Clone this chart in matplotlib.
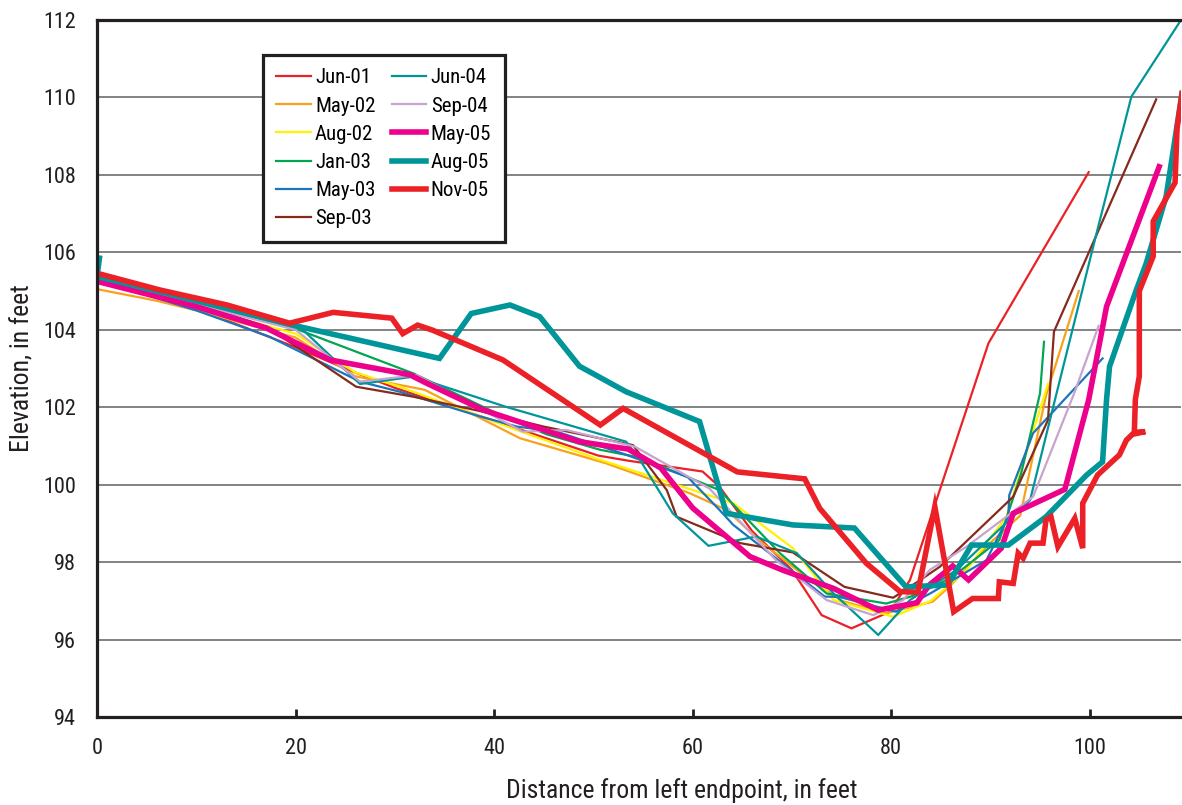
import matplotlib
matplotlib.use("Agg")
import matplotlib.pyplot as plt

plt.rcParams['font.family'] = ['Roboto Condensed', 'Archivo Narrow', 'DejaVu Sans']

# perfis medidos (distancia em pes, elevacao em pes)
jun01_x = [0, 6.5, 13, 20, 25, 30, 40, 50.5, 53.5, 61, 62.7, 66, 70, 73, 76, 79.9, 81.9, 89.8, 99.9]
jun01_y = [105.3, 104.85, 104.25, 103.55, 103.0, 102.5, 101.65, 100.75, 100.62, 100.34, 99.95, 98.8, 97.8, 96.63, 96.29, 96.72, 97.54, 103.65, 108.07]

may02_x = [0, 6, 10, 20, 26, 33, 42.6, 51.3, 59.7, 63.4, 67, 71, 75, 79.5, 84.2, 86, 90, 93, 95.6, 98.9]
may02_y = [105.05, 104.75, 104.5, 103.8, 102.8, 102.45, 101.2, 100.55, 99.78, 99.35, 98.5, 97.7, 97.0, 96.68, 96.98, 97.4, 98.5, 99.2, 102.3, 105.0]

aug02_x = [0, 10, 20, 26, 30.5, 42.3, 50.7, 64.1, 70.1, 74.2, 80.2, 84, 87.6, 91.6, 95.8]
aug02_y = [105.3, 104.6, 103.9, 102.9, 102.53, 101.41, 100.64, 99.52, 98.36, 97.02, 96.59, 97.0, 97.8, 99.17, 102.6]

jan03_x = [0, 10, 20.4, 31.9, 40.6, 45.3, 50.7, 54.7, 62.7, 65.1, 68.8, 73.5, 79.5, 82.5, 86.2, 90.9, 93.1, 95.0, 95.4]
jan03_y = [105.35, 104.7, 103.99, 102.87, 101.8, 101.3, 100.9, 100.7, 99.86, 99.22, 98.23, 97.19, 96.93, 97.15, 97.62, 98.57, 100.29, 102.36, 103.69]

may03_x = [0, 10, 17.4, 26.5, 30.5, 38.6, 42.3, 46.3, 53, 59.5, 62.7, 64.1, 67.1, 73.3, 74.8, 80.5, 84, 89.6, 91.8, 91.9, 94.3, 101.3]
may03_y = [105.3, 104.5, 103.82, 102.66, 102.4, 101.76, 101.5, 101.37, 100.8, 100.2, 99.35, 98.96, 98.36, 97.11, 97.1, 96.72, 97.2, 98.05, 99.17, 99.73, 101.33, 103.26]

sep03_x = [0, 10, 17.1, 26.1, 31.9, 38.6, 45, 54, 57.4, 58.4, 64.8, 70.1, 75.3, 80.2, 81.9, 84.9, 92.3, 95.8, 96.4, 106.7]
sep03_y = [105.3, 104.65, 104.08, 102.53, 102.27, 101.9, 101.5, 101.02, 99.86, 99.17, 98.49, 98.25, 97.36, 97.08, 97.36, 97.88, 99.69, 101.67, 103.95, 109.95]

jun04_x = [0, 10, 20.4, 26.5, 31.9, 41.2, 53.3, 54.7, 58.0, 61.6, 66.4, 70.5, 74.2, 78.7, 81.9, 86.6, 94.0, 96.5, 100.7, 104.2, 109.2]
jun04_y = [105.35, 104.75, 104.08, 102.6, 102.79, 102.01, 101.11, 100.64, 99.26, 98.42, 98.66, 98.23, 97.19, 96.12, 97.02, 97.8, 99.6, 102.19, 106.5, 110.02, 112.0]

sep04_x = [0, 10, 20, 26.5, 32.2, 42.9, 47.3, 54.2, 61.7, 68.4, 73.5, 78.2, 81.2, 83.9, 87.6, 94.3, 98.5, 100.9]
sep04_y = [105.3, 104.65, 104.0, 102.66, 102.83, 101.37, 101.41, 100.98, 99.9, 98.05, 97.02, 96.63, 97.02, 97.8, 98.4, 99.69, 102.4, 104.1]

may05_x = [0, 10, 17.1, 23.5, 31.5, 33.2, 38.9, 48.6, 53.5, 56.8, 60.0, 65.8, 69.1, 74.2, 78.7, 82.6, 83.8, 86.2, 87.8, 91.1, 92.3, 97.5, 99.9, 101.7, 107.0]
may05_y = [105.25, 104.6, 104.04, 103.22, 102.84, 102.62, 101.93, 101.11, 100.92, 100.43, 99.4, 98.14, 97.79, 97.32, 96.76, 96.95, 97.4, 97.9, 97.54, 98.36, 99.26, 99.88, 102.19, 104.6, 108.21]

aug05_x = [0.25, 0, 10, 20.4, 34.5, 37.7, 41.6, 44.6, 48.6, 53.3, 60.7, 63.4, 70.1, 76.3, 81.5, 85.7, 88.1, 91.8, 95.6, 99.7, 101.3, 101.7, 102.0, 104.7, 105.7, 107.7, 109.3]
aug05_y = [105.85, 105.38, 104.75, 104.08, 103.26, 104.42, 104.64, 104.34, 103.06, 102.4, 101.63, 99.26, 98.96, 98.88, 97.36, 97.41, 98.44, 98.44, 99.17, 100.25, 100.59, 102.2, 103.05, 105.03, 105.72, 107.44, 110.1]

nov05_x = [0, 6.3, 13.1, 19.4, 23.8, 29.7, 30.8, 32.3, 33.8, 40.9, 50.7, 53.0, 64.5, 71.3, 72.8, 77.5,
           80.9, 82.7, 84.4, 86.3, 88.2, 90.8, 90.9, 92.3, 92.8, 93.3, 94.0, 95.3, 95.6, 96.1, 96.8, 98.5,
           99.3, 99.3, 100.8, 103.0, 103.7, 104.3, 105.6, 104.5, 104.6, 105.0, 105.0, 106.4, 106.4, 108.6, 108.8, 109.3]
nov05_y = [105.46, 105.03, 104.64, 104.17, 104.45, 104.3, 103.9, 104.12, 103.99, 103.22, 101.54, 101.97, 100.33, 100.15, 99.39, 97.97,
           97.24, 97.22, 99.43, 96.72, 97.06, 97.06, 97.49, 97.45, 98.23, 98.1, 98.49, 98.49, 99.09, 99.17, 98.4, 99.13,
           98.36, 99.52, 100.25, 100.77, 101.15, 101.3, 101.37, 101.35, 102.2, 102.8, 105.0, 105.9, 106.8, 107.8, 109.2, 110.1]

series = [
    ("Jun-01", jun01_x, jun01_y, "#ec2027", 1.6),
    ("May-02", may02_x, may02_y, "#f9a11b", 1.6),
    ("Aug-02", aug02_x, aug02_y, "#fff200", 1.6),
    ("Jan-03", jan03_x, jan03_y, "#00a651", 1.6),
    ("May-03", may03_x, may03_y, "#1c75bc", 1.6),
    ("Sep-03", sep03_x, sep03_y, "#862a1c", 1.6),
    ("Jun-04", jun04_x, jun04_y, "#009699", 1.6),
    ("Sep-04", sep04_x, sep04_y, "#c7a3cf", 1.6),
    ("May-05", may05_x, may05_y, "#ec008c", 4),
    ("Aug-05", aug05_x, aug05_y, "#009699", 4),
    ("Nov-05", nov05_x, nov05_y, "#ec2027", 4),
]

fig = plt.figure(figsize=(11.82, 8.05), dpi=100)
ax = fig.add_axes([97 / 1182, 1 - 717 / 805, 1084 / 1182, 697 / 805])

for nome, xs, ys, cor, lw in series:
    ax.plot(xs, ys, color=cor, linewidth=lw, label=nome, solid_joinstyle='miter')

ax.set_xlim(0, 109.2)
ax.set_ylim(94, 112)
ax.set_xticks([0, 20, 40, 60, 80, 100])
ax.set_yticks(range(94, 113, 2))
ax.yaxis.grid(True, color='#6d6d6d', linewidth=1.2)
ax.set_axisbelow(True)

for lado in ['left', 'bottom', 'top']:
    ax.spines[lado].set_linewidth(2.3)
    ax.spines[lado].set_color('#231f20')
ax.spines['right'].set_visible(False)

ax.tick_params(axis='x', direction='in', length=6, width=2, pad=15, labelsize=16, colors='#231f20')
ax.tick_params(axis='y', length=0, pad=15, labelsize=16, colors='#231f20')

ax.set_xlabel("Distance from left endpoint, in feet", fontsize=18.5, color='#231f20')
ax.set_ylabel("Elevation, in feet", fontsize=18.5, color='#231f20')
ax.xaxis.set_label_coords(0.539, -0.087)
ax.yaxis.set_label_coords(-0.058, 0.5)

leg = ax.legend(loc='upper left', bbox_to_anchor=(0.153, 0.95), ncol=2, fontsize=15,
                frameon=True, fancybox=False, edgecolor='#231f20', framealpha=1,
                handlelength=1.65, handletextpad=0.2, columnspacing=0.8,
                labelspacing=0.44, borderpad=0.65, borderaxespad=0)
leg.get_frame().set_linewidth(2.3)

fig.savefig("out.png", dpi=100)
